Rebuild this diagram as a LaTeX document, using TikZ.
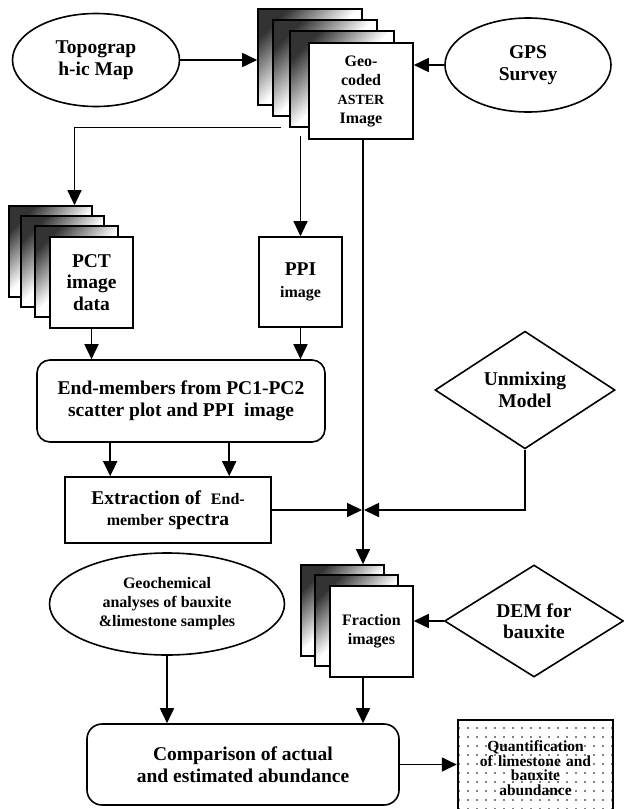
\documentclass[tikz,border=0pt]{standalone}
\usepackage{fontspec}
\setmainfont{Liberation Serif}
\usetikzlibrary{shapes.geometric,arrows.meta,patterns.meta}

\newcommand{\txtL}{\fontsize{19.5}{21.5}\selectfont}
\newcommand{\txtM}{\fontsize{16}{19}\selectfont}
\newcommand{\txtS}{\fontsize{14}{18}\selectfont}

\begin{document}
\begin{tikzpicture}[
        x=1pt, y=-1pt, % координаты в пикселях, ось y вниз
        font=\bfseries\txtL,
        line width=1.6pt,
        arr/.style={-{Triangle[length=15pt, width=14pt]}, line width=1.7pt}, % стрелки
        thin arr/.style={arr, line width=1.1pt}, % линии от стопки
        oval/.style={ellipse, draw, align=center, inner sep=0pt},
        rhomb/.style={diamond, draw, align=center, inner sep=0pt},
        box/.style={rectangle, draw, align=center, inner sep=0pt, fill=white},
        rbox/.style={rectangle, rounded corners=13pt, draw, align=center, inner sep=0pt},
        sheet/.style={box, top color=black!80, bottom color=white, middle color=white, shading angle=45}, % листы стопки
        geosheet/.style={minimum width=104pt, minimum height=96pt},
        pctsheet/.style={minimum width=83pt, minimum height=91pt},
    ]

    \clip (0,0) rectangle (624,809);

    % верхний ряд
    \node[oval, minimum width=167pt, minimum height=93pt] (topo) at (96,60) {Topograp\\h-ic Map};
    \node[oval, minimum width=166pt, minimum height=94pt] (gps) at (528,65) {GPS\\Survey};

    \node[sheet, geosheet] (geoA) at (310,57) {};
    \node[sheet, geosheet] (geoB) at (325,68) {};
    \node[sheet, geosheet] (geoC) at (342,79) {};
    \node[box, geosheet, font=\bfseries\txtM] (geoD) at (361,91) {Geo-\\coded\\{\txtS ASTER}\\Image};

    % второй ряд
    \node[sheet, pctsheet] (pctA) at (50.5,251.5) {};
    \node[sheet, pctsheet] (pctB) at (62.5,261.5) {};
    \node[sheet, pctsheet] (pctC) at (76.5,271.5) {};
    \node[box, pctsheet] (pctD) at (91.5,282.5) {PCT\\image\\data};
    \node[box, minimum width=83pt, minimum height=90pt] (ppi) at (300.5,282) {PPI\\{\txtM image}};

    \node[rbox, minimum width=288pt, minimum height=82pt] (endm) at (181,401) {End-members from PC1-PC2\\scatter plot and PPI~~image};
    \node[rhomb, minimum width=180pt, minimum height=74pt] (unmix) at (525,390) {Unmixing\\Model};
    \node[box, minimum width=206pt, minimum height=66pt] (extr) at (168,510) {Extraction of~~{\txtM End-}\\{\txtM member} spectra};

    % нижний ряд
    \node[oval, minimum width=235pt, minimum height=102pt, font=\bfseries\txtM] (geoch) at (167,604) {Geochemical\\analyses of bauxite\\\&limestone samples};
    \node[sheet, pctsheet] (fracA) at (342.5,610.5) {};
    \node[sheet, pctsheet] (fracB) at (356.5,620.5) {};
    \node[box, pctsheet, font=\bfseries\txtM] (fracC) at (371.5,631.5) {Fraction\\images};
    \node[rhomb, minimum width=179pt, minimum height=112pt] (dem) at (534,621) {DEM for\\bauxite};

    \node[rbox, rounded corners=15pt, minimum width=312pt, minimum height=81pt] (cmp) at (243,764.5) {Comparison of actual\\and estimated abundance};
    \node[box, line width=2.5pt, pattern={Dots[distance=9pt, radius=0.9pt]}, minimum width=155pt, minimum height=96pt, font=\bfseries\fontsize{15.5}{14.5}\selectfont, text width=150pt, align=center] (quant) at (535.5,768) {Quantification\\of limestone and\\bauxite\\abundance};

    \coordinate (ax) at ([xshift=2pt]geoD.south); % линия от ASTER
    \coordinate (tapL) at ([xshift=-8pt]geoC.south west);
    \coordinate (jn) at (ax |- extr.east);

    % связи
    \draw[arr] (topo.east) -- (topo.east -| geoA.west);
    \draw[arr] (gps.west) -- (gps.west -| geoD.east);
    \draw[thin arr] (tapL) -| ([xshift=24pt]pctA.north);
    \draw[thin arr] ([yshift=-8pt]ppi.north |- geoC.south) -- (ppi.north);
    \draw[thin arr] (ax) -- (ax |- fracA.north);
    \draw[arr] (pctD.south) -- (pctD.south |- endm.north);
    \draw[arr] (ppi.south) -- (ppi.south |- endm.north);
    \draw[arr] ([xshift=74pt]endm.south west) -- ([xshift=74pt]endm.south west |- extr.north);
    \draw[arr] ([xshift=193pt]endm.south west) -- ([xshift=193pt]endm.south west |- extr.north);
    \draw[arr, shorten >=1pt] (extr.east) -- (jn);
    \draw[arr, shorten >=1pt] (unmix.south) |- (jn);
    \draw[arr] (dem.west) -- (dem.west -| fracC.east);
    \draw[arr] (geoch.south) -- (geoch.south |- cmp.north);
    \draw[arr] (fracC.south -| ax) -- (cmp.north -| ax);
    \draw[arr] (cmp.east) -- (cmp.east -| quant.west);
\end{tikzpicture}
\end{document}
